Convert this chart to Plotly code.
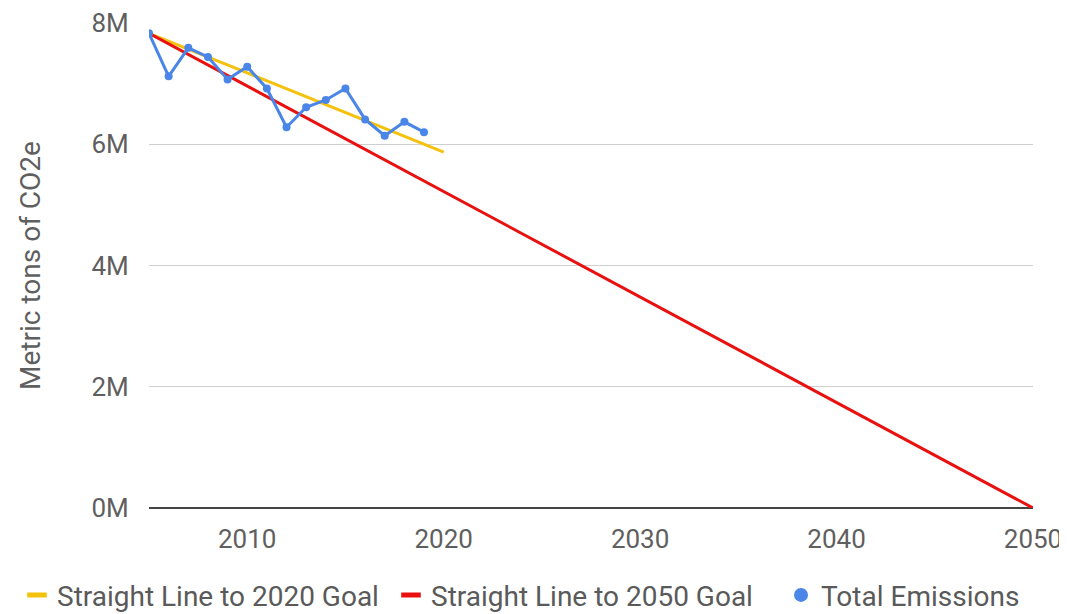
import plotly.graph_objects as go

years = list(range(2005, 2020))
emissions = [7.83, 7.12, 7.59, 7.44, 7.07, 7.28, 6.92, 6.28, 6.61, 6.73, 6.92, 6.41, 6.14, 6.37, 6.20]
emissions = [v * 1e6 for v in emissions]

goal2020_x = [2005, 2020]
goal2020_y = [7.83e6, 5.87e6]
goal2050_x = [2005, 2050]
goal2050_y = [7.83e6, 0]

y_ticks = [0, 2e6, 4e6, 6e6, 8e6]
y_labels = ["0M", "2M", "4M", "6M", "8M"]
x_ticks = [2010, 2020, 2030, 2040, 2050]

YELLOW = "#F4C20D"
RED = "#E8110F"
BLUE = "#4A86E8"
FONT = "Roboto"
TXT = "#5f5f5f"
LEG_TXT = "#5a5a5a"

W, H = 1059, 606

fig = go.Figure()
fig.add_trace(go.Scatter(x=goal2020_x, y=goal2020_y, mode="lines",
                         line=dict(color=YELLOW, width=3), showlegend=False))
fig.add_trace(go.Scatter(x=goal2050_x, y=goal2050_y, mode="lines",
                         line=dict(color=RED, width=3), showlegend=False))
fig.add_trace(go.Scatter(x=years, y=emissions, mode="lines+markers",
                         line=dict(color=BLUE, width=3),
                         marker=dict(color=BLUE, size=8), showlegend=False))
# legend entries (one legend each, for exact placement)
fig.add_trace(go.Scatter(x=[None], y=[None], mode="markers", name="Straight Line to 2020 Goal",
                         legend="legend",
                         marker=dict(symbol="line-ew", size=14, line=dict(color=YELLOW, width=5))))
fig.add_trace(go.Scatter(x=[None], y=[None], mode="markers", name="Straight Line to 2050 Goal",
                         legend="legend2",
                         marker=dict(symbol="line-ew", size=14, line=dict(color=RED, width=5))))
fig.add_trace(go.Scatter(x=[None], y=[None], mode="markers", name="Total Emissions",
                         legend="legend3",
                         marker=dict(symbol="circle", size=14, color=BLUE)))


def leg(xpx):
    return dict(orientation="h", xref="container", yref="container",
                x=xpx / W, xanchor="left", y=0.031, yanchor="middle",
                font=dict(size=28, color=LEG_TXT), itemwidth=30,
                bgcolor="rgba(0,0,0,0)")


fig.update_layout(
    width=W, height=H,
    margin=dict(l=141, r=34, t=15, b=106, autoexpand=False),
    plot_bgcolor="white", paper_bgcolor="white",
    font=dict(family=FONT, color=TXT, size=26),
    legend=leg(9), legend2=leg(383), legend3=leg(773),
    xaxis=dict(range=[2005, 2050], tickvals=x_ticks, showgrid=False, zeroline=False,
               automargin=False,
               ticks="outside", ticklen=8, tickcolor="rgba(0,0,0,0)",
               tickfont=dict(size=26, color=TXT), showline=False),
    yaxis=dict(range=[0, 8e6], tickvals=y_ticks, ticktext=y_labels, automargin=False,
               gridcolor="#cfcfcf", gridwidth=1, zeroline=True, zerolinecolor="#444444",
               zerolinewidth=1.5, ticks="outside", ticklen=14, tickcolor="rgba(0,0,0,0)",
               tickfont=dict(size=26, color=TXT),
               title=dict(text="Metric tons of CO2e", font=dict(size=28, color=TXT), standoff=42)),
)

fig.write_html("out.html")
